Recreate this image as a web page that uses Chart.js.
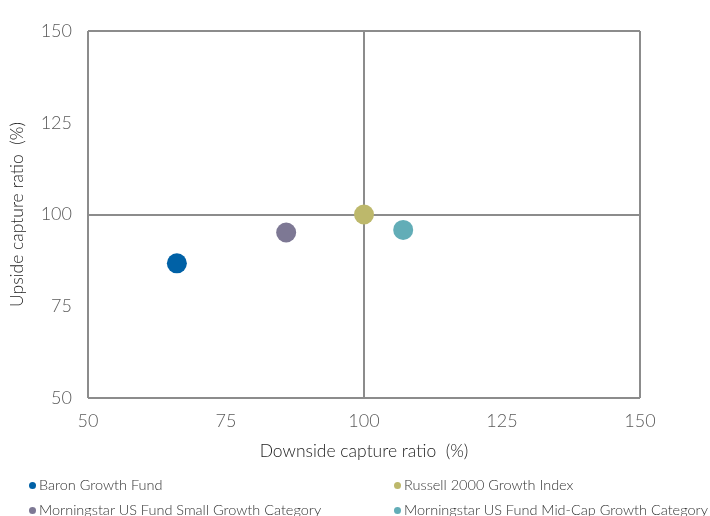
<!DOCTYPE html>
<html>
<head>
<meta charset="utf-8">
<script src="https://cdn.jsdelivr.net/npm/chart.js@4"></script>
<style>
  html, body { margin: 0; padding: 0; background: #fff; }
  #wrap { position: relative; width: 710px; height: 516px; }
  #legend { position: absolute; left: 0; top: 0; width: 710px; height: 516px; pointer-events: none;
            font-family: Lato, "Open Sans", sans-serif; font-weight: 300; font-size: 14.5px; color: #333; }
  .item { position: absolute; white-space: nowrap; line-height: 18px; }
  .dot { display: inline-block; width: 7px; height: 7px; border-radius: 50%; margin-right: 3px; vertical-align: 1px; }
</style>
</head>
<body>
<div id="wrap">
  <canvas id="c" width="710" height="516"></canvas>
  <div id="legend"></div>
</div>
<script>
// Capture ratios (%) for each fund / index
const seriesNames = [
  'Baron Growth Fund',
  'Russell 2000 Growth Index',
  'Morningstar US Fund Small Growth Category',
  'Morningstar US Fund Mid-Cap Growth Category'
];
const downsideCapture = [66.1, 100, 85.9, 107.1];
const upsideCapture = [86.7, 100, 95.1, 95.8];
const seriesColors = ['#0061a6', '#bdb86b', '#7d7894', '#62adb7'];
const axisTicks = [50, 75, 100, 125, 150];

const FONT = 'Lato, "Open Sans", sans-serif';
const LINE = '#8c8c8c';

const datasets = seriesNames.map((name, i) => ({
  label: name,
  data: [{ x: downsideCapture[i], y: upsideCapture[i] }],
  backgroundColor: seriesColors[i],
  borderWidth: 0,
  pointRadius: 10,
  pointHoverRadius: 10
}));

// Only the frame and the 100/100 crosshair are drawn
const gridColor = ctx => (ctx.tick && [50, 100, 150].includes(ctx.tick.value)) ? LINE : 'rgba(0,0,0,0)';

new Chart(document.getElementById('c'), {
  type: 'scatter',
  data: { datasets },
  options: {
    responsive: false,
    animation: false,
    layout: { padding: { left: 0, right: 70, top: 31, bottom: 48 } },
    plugins: { legend: { display: false }, tooltip: { enabled: false } },
    scales: {
      x: {
        min: axisTicks[0], max: axisTicks[axisTicks.length - 1],
        afterBuildTicks: s => { s.ticks = axisTicks.map(v => ({ value: v })); },
        afterFit: s => { s.height = 70; },
        border: { display: false },
        grid: { color: gridColor, lineWidth: 2, drawTicks: false },
        ticks: { padding: 12, color: '#5a5a5a', font: { family: FONT, size: 18, weight: 300 } },
        title: { display: true, text: 'Downside capture ratio  (%)', color: '#222',
                 font: { family: FONT, size: 17.5, weight: 300 }, padding: { top: 0, bottom: 6 } }
      },
      y: {
        min: axisTicks[0], max: axisTicks[axisTicks.length - 1],
        afterBuildTicks: s => { s.ticks = axisTicks.map(v => ({ value: v })); },
        afterFit: s => { s.width = 88; },
        border: { display: false },
        grid: { color: gridColor, lineWidth: 2, drawTicks: false },
        ticks: { padding: 16, color: '#5a5a5a', font: { family: FONT, size: 18, weight: 300 } },
        title: { display: true, text: 'Upside capture ratio  (%)', color: '#222',
                 font: { family: FONT, size: 17.5, weight: 300 }, padding: { top: 7, bottom: 0 } }
      }
    }
  }
});

// Two-column legend under the plot
const legendPos = [[29, 476], [394, 476], [29, 501], [394, 501]];
const legend = document.getElementById('legend');
seriesNames.forEach((name, i) => {
  const el = document.createElement('div');
  el.className = 'item';
  el.style.left = legendPos[i][0] + 'px';
  el.style.top = legendPos[i][1] + 'px';
  el.innerHTML = '<span class="dot" style="background:' + seriesColors[i] + '"></span>' + name;
  legend.appendChild(el);
});
</script>
</body>
</html>
